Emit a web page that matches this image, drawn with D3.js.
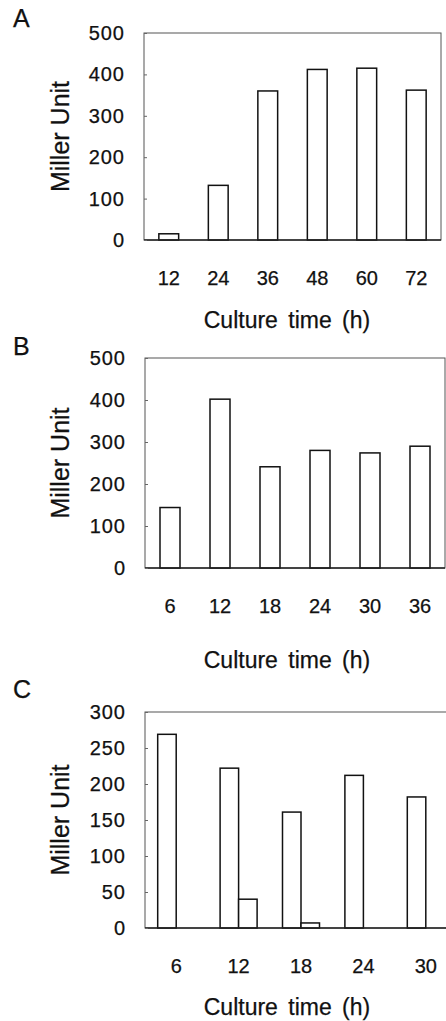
<!DOCTYPE html>
<html>
<head>
<meta charset="utf-8">
<script src="https://cdn.jsdelivr.net/npm/d3@7"></script>
<style>
  body { margin: 0; background: #fff; }
  text { font-family: "Liberation Sans", Arial, sans-serif; fill: #111; stroke: #111; stroke-width: 0.25px; }
</style>
</head>
<body>
<script>
// panel A: 12-72 h
var timesA = ["12", "24", "36", "48", "60", "72"];
var unitsA = [15, 132, 360, 412, 415, 362];
// panel B: 6-36 h
var timesB = ["6", "12", "18", "24", "30", "36"];
var unitsB = [144, 402, 241, 280, 274, 290];
// panel C: two bars per time point
var timesC = ["6", "12", "18", "24", "30"];
var unitsC1 = [269, 222, 161, 212, 182];
var unitsC2 = [0, 40, 7, 0, 0];

var ticksAB = [0, 100, 200, 300, 400, 500];
var ticksC = [0, 50, 100, 150, 200, 250, 300];

var W = 446, H = 1021;

var svg = d3.select("body").append("svg")
    .attr("width", W)
    .attr("height", H);

function drawPanel(opt) {
  var g = svg.append("g");

  var x = d3.scaleBand()
      .domain(opt.times)
      .range([opt.left, opt.right])
      .paddingInner(opt.pad)
      .paddingOuter(opt.pad / 2);

  var y = d3.scaleLinear()
      .domain([0, d3.max(opt.ticks)])
      .range([opt.bottom, opt.top]);

  // frame
  g.append("rect")
      .attr("x", opt.left)
      .attr("y", opt.top)
      .attr("width", opt.right - opt.left)
      .attr("height", opt.bottom - opt.top)
      .attr("fill", "none")
      .attr("stroke", "#555")
      .attr("stroke-width", 1);

  // bars
  var inner = d3.scaleBand()
      .domain(d3.range(opt.series.length))
      .range([0, x.bandwidth()]);

  opt.series.forEach(function(vals, si) {
    g.append("g").selectAll("rect")
        .data(vals)
        .enter()
        .append("rect")
        .attr("x", function(d, i) { return x(opt.times[i]) + inner(si); })
        .attr("y", function(d) { return y(d); })
        .attr("width", inner.bandwidth())
        .attr("height", function(d) { return y(0) - y(d); })
        .attr("fill", "#fff")
        .attr("stroke", "#111")
        .attr("stroke-width", 1.5);
  });

  // baseline
  g.append("line")
      .attr("x1", opt.left).attr("x2", opt.right)
      .attr("y1", y(0)).attr("y2", y(0))
      .attr("stroke", "#222")
      .attr("stroke-width", 1.3);

  // y axis
  var ya = g.append("g")
      .attr("transform", "translate(" + opt.left + ",0)")
      .call(d3.axisLeft(y).tickValues(opt.ticks).tickSize(-3).tickPadding(19));
  ya.select(".domain").remove();
  ya.selectAll(".tick line").attr("stroke", "#666");
  ya.selectAll("text")
      .style("font-size", "20px")
      .style("letter-spacing", "1px")
      .attr("fill", "#111");

  // x axis
  var xa = g.append("g")
      .attr("transform", "translate(0," + opt.bottom + ")")
      .call(d3.axisBottom(x).tickSize(0).tickPadding(31));
  xa.select(".domain").remove();
  xa.selectAll("text")
      .style("font-size", "20px")
      .attr("fill", "#111");

  // titles
  g.append("text")
      .attr("transform", "translate(" + 69 + "," + (opt.top + opt.bottom) / 2 + ") rotate(-90)")
      .attr("text-anchor", "middle")
      .style("font-size", "25px")
      .text("Miller Unit");

  g.append("text")
      .attr("x", 287)
      .attr("y", opt.bottom + opt.xTitleGap)
      .attr("text-anchor", "middle")
      .style("font-size", "23px")
      .style("word-spacing", "4px")
      .text("Culture time (h)");

  g.append("text")
      .attr("x", 13)
      .attr("y", opt.labelY)
      .style("font-size", "25px")
      .text(opt.label);
}

drawPanel({
  label: "A", labelY: 27,
  times: timesA, series: [unitsA], ticks: ticksAB,
  left: 144, right: 441, top: 33, bottom: 240,
  pad: 0.6, xTitleGap: 88
});

drawPanel({
  label: "B", labelY: 355,
  times: timesB, series: [unitsB], ticks: ticksAB,
  left: 145, right: 445, top: 358, bottom: 568,
  pad: 0.6, xTitleGap: 100
});

drawPanel({
  label: "C", labelY: 698,
  times: timesC, series: [unitsC1, unitsC2], ticks: ticksC,
  left: 145, right: 457, top: 712, bottom: 928,
  pad: 0.407, xTitleGap: 87
});
</script>
</body>
</html>
